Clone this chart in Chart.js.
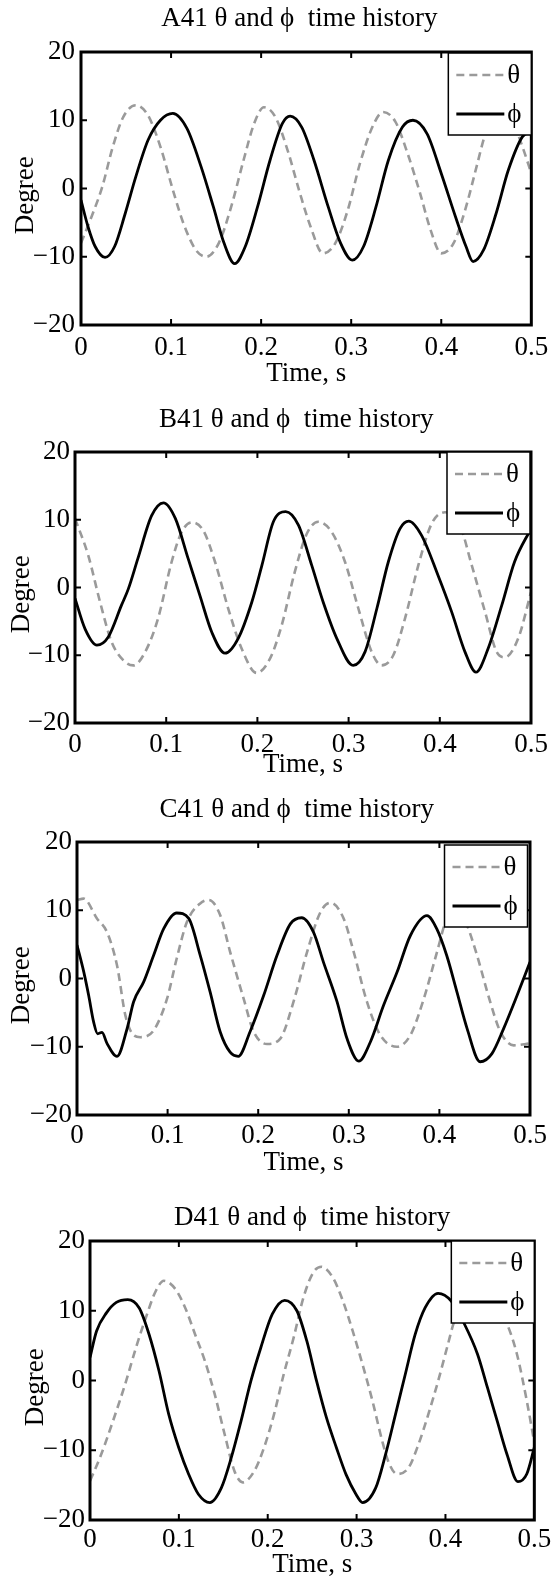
<!DOCTYPE html>
<html>
<head>
<meta charset="utf-8">
<script src="https://cdn.jsdelivr.net/npm/chart.js@4.4.1/dist/chart.umd.min.js"></script>
<style>
  html, body { margin: 0; padding: 0; background: #fff; }
  #page { position: relative; width: 555px; height: 1583px; }
  #page canvas { position: absolute; left: 0; }
</style>
</head>
<body>
<div id="page">
  <canvas id="chartA" width="555" height="392" style="top:0px;width:555px;height:392px"></canvas>
  <canvas id="chartB" width="555" height="390" style="top:392px;width:555px;height:390px"></canvas>
  <canvas id="chartC" width="555" height="398" style="top:782px;width:555px;height:398px"></canvas>
  <canvas id="chartD" width="555" height="403" style="top:1180px;width:555px;height:403px"></canvas>
</div>
<script>
// values (time in s, angle in degrees)
const panelNames = ["A41", "B41", "C41", "D41"];
const seriesLabels = ["θ", "ϕ"];
const timeTicks = [0, 0.1, 0.2, 0.3, 0.4, 0.5];
const degreeTicks = [-20, -10, 0, 10, 20];

const aThetaTime = [0, 0.0118, 0.0235, 0.0353, 0.047, 0.0608, 0.0745, 0.0882, 0.102, 0.1137, 0.1275, 0.1392, 0.153, 0.1667, 0.1804, 0.1922, 0.2031, 0.2157, 0.2294, 0.2431, 0.2549, 0.2686, 0.2824, 0.2961, 0.3098, 0.3235, 0.3353, 0.349, 0.3627, 0.3765, 0.3882, 0.400, 0.4137, 0.4275, 0.4392, 0.449, 0.4627, 0.4784, 0.4902, 0.5];
const aThetaDeg  = [-8.0, -4.1, 0.2, 6.1, 10.5, 12.2, 10.7, 6.1, -0.2, -5.1, -9.0, -10.0, -8.0, -2.7, 4.1, 9.5, 11.9, 10.5, 5.6, -0.7, -5.6, -9.5, -8.0, -3.2, 3.7, 9.0, 11.2, 9.8, 5.1, -0.7, -6.1, -9.5, -8.0, -2.7, 3.2, 8.0, 11.5, 10.0, 6.1, 2.2];
const aPhiTime = [0, 0.0078, 0.0157, 0.0267, 0.0373, 0.049, 0.0608, 0.0745, 0.0882, 0.102, 0.1176, 0.1333, 0.147, 0.1588, 0.1706, 0.1824, 0.196, 0.2098, 0.2235, 0.2322, 0.245, 0.2588, 0.2745, 0.2882, 0.3012, 0.3137, 0.3275, 0.3412, 0.3569, 0.3686, 0.3843, 0.400, 0.4157, 0.4275, 0.4353, 0.447, 0.4608, 0.4745, 0.4902, 0.5];
const aPhiDeg  = [-1.7, -5.6, -8.5, -10.1, -8.5, -3.7, 1.7, 7.1, 10.0, 11.0, 8.8, 3.2, -2.7, -8.0, -11.0, -8.5, -2.7, 4.1, 9.5, 10.6, 9.0, 4.1, -2.7, -8.0, -10.5, -8.5, -2.7, 4.1, 9.0, 10.0, 8.0, 2.2, -4.1, -8.5, -10.7, -9.0, -3.7, 2.7, 7.6, 8.3];

const bThetaTime = [0, 0.0146, 0.0274, 0.040, 0.055, 0.064, 0.077, 0.091, 0.106, 0.117, 0.128, 0.1407, 0.1535, 0.168, 0.1827, 0.199, 0.2138, 0.2266, 0.241, 0.254, 0.2668, 0.2814, 0.296, 0.3107, 0.3253, 0.3363, 0.349, 0.3618, 0.3765, 0.391, 0.4057, 0.422, 0.435, 0.4496, 0.4623, 0.4715, 0.486, 0.5];
const bThetaDeg  = [10.2, 4.7, -2.1, -8.0, -11.0, -11.5, -9.5, -4.6, 3.8, 8.2, 9.6, 8.4, 3.8, -3.1, -9.0, -12.6, -10.5, -5.6, 2.3, 7.9, 9.7, 8.2, 3.8, -3.1, -9.5, -11.5, -10.0, -4.6, 3.3, 9.4, 11.1, 9.2, 3.3, -3.6, -9.5, -10.3, -7.5, -0.7];
const bPhiTime = [0, 0.011, 0.024, 0.0365, 0.051, 0.0585, 0.069, 0.084, 0.097, 0.110, 0.124, 0.137, 0.150, 0.1645, 0.179, 0.194, 0.205, 0.2175, 0.231, 0.245, 0.2595, 0.272, 0.287, 0.305, 0.318, 0.331, 0.3436, 0.3564, 0.366, 0.380, 0.398, 0.413, 0.4276, 0.4397, 0.453, 0.468, 0.482, 0.5];
const bPhiDeg  = [-1.6, -6.1, -8.5, -7.3, -2.6, -0.2, 4.3, 10.6, 12.5, 10.2, 4.3, -1.2, -6.6, -9.7, -7.5, -2.1, 3.3, 9.7, 11.2, 9.2, 3.3, -2.1, -7.5, -11.5, -9.5, -3.1, 3.8, 8.7, 9.8, 7.7, 1.8, -3.6, -9.5, -12.5, -9.0, -2.6, 3.8, 8.7];

const cThetaTime = [0, 0.0074, 0.022, 0.0331, 0.0442, 0.0534, 0.0625, 0.070, 0.0846, 0.0993, 0.110, 0.1214, 0.136, 0.1453, 0.158, 0.169, 0.184, 0.195, 0.2097, 0.2244, 0.239, 0.254, 0.2686, 0.2796, 0.2943, 0.3054, 0.320, 0.3348, 0.3532, 0.368, 0.3827, 0.3974, 0.408, 0.419, 0.4305, 0.4415, 0.456, 0.4673, 0.482, 0.5];
const cThetaDeg  = [11.5, 11.7, 8.8, 6.8, 1.9, -5.4, -8.3, -8.6, -7.6, -3.0, 2.9, 8.3, 11.0, 11.5, 9.3, 3.9, -3.0, -7.8, -9.6, -8.8, -3.4, 3.9, 9.7, 11.1, 8.8, 3.9, -3.4, -8.3, -10.0, -8.3, -3.0, 3.9, 8.8, 10.7, 7.8, 3.4, -3.4, -7.8, -9.8, -9.5];
const cPhiTime = [0, 0.0074, 0.0129, 0.0184, 0.0228, 0.0276, 0.0331, 0.0442, 0.0552, 0.0625, 0.0736, 0.0846, 0.0957, 0.110, 0.1233, 0.136, 0.147, 0.158, 0.169, 0.178, 0.191, 0.206, 0.2208, 0.2355, 0.248, 0.261, 0.272, 0.287, 0.298, 0.311, 0.3238, 0.3385, 0.3532, 0.368, 0.3863, 0.397, 0.408, 0.4194, 0.4305, 0.445, 0.458, 0.471, 0.4857, 0.5];
const cPhiDeg  = [4.9, 1.0, -2.5, -6.4, -8.1, -7.9, -9.5, -11.4, -7.4, -3.4, -0.5, 3.4, 7.3, 9.6, 8.8, 3.4, -2.0, -7.8, -10.8, -11.4, -7.8, -2.5, 3.4, 8.0, 8.9, 6.8, 2.4, -3.4, -8.8, -12.1, -9.3, -3.9, 0.9, 6.3, 9.2, 7.3, 3.4, -2.0, -7.3, -12.2, -11.0, -7.3, -2.5, 2.4];

const dThetaTime = [0, 0.0111, 0.0259, 0.0406, 0.0517, 0.0628, 0.0739, 0.0831, 0.0961, 0.1072, 0.1183, 0.1293, 0.1404, 0.1515, 0.1626, 0.1718, 0.1848, 0.1959, 0.207, 0.218, 0.2291, 0.2402, 0.2513, 0.2605, 0.2735, 0.2846, 0.2956, 0.3067, 0.3178, 0.3289, 0.3363, 0.3455, 0.3585, 0.3695, 0.3806, 0.3917, 0.4028, 0.410, 0.440, 0.4693, 0.4804, 0.4915, 0.5];
const dThetaDeg  = [-14.4, -11.1, -5.8, -0.1, 4.7, 9.0, 12.8, 14.3, 13.1, 10.4, 6.6, 2.8, -2.0, -7.7, -13.0, -14.6, -13.0, -9.6, -4.9, 0.9, 6.1, 11.9, 15.5, 16.3, 14.7, 11.4, 7.1, 2.3, -2.9, -8.7, -11.8, -13.4, -12.5, -9.2, -4.9, -0.1, 5.2, 8.5, 14.5, 8.1, 3.8, -2.9, -8.9];
const dPhiTime = [0, 0.0074, 0.0185, 0.0296, 0.0425, 0.0554, 0.0665, 0.0776, 0.0887, 0.0998, 0.1109, 0.122, 0.1349, 0.1478, 0.1589, 0.170, 0.181, 0.1922, 0.2051, 0.2191, 0.2328, 0.2439, 0.255, 0.266, 0.2772, 0.2882, 0.2993, 0.3067, 0.3215, 0.3326, 0.3437, 0.3548, 0.3659, 0.377, 0.3917, 0.4065, 0.4213, 0.436, 0.4472, 0.4582, 0.4693, 0.4815, 0.4915, 0.5];
const dPhiDeg  = [3.3, 7.1, 9.7, 11.2, 11.6, 10.4, 6.6, 1.4, -4.9, -9.6, -13.4, -16.3, -17.5, -15.4, -11.1, -5.8, -0.1, 4.7, 9.5, 11.5, 10.0, 5.7, -0.1, -5.3, -9.6, -13.5, -16.3, -17.5, -15.4, -10.6, -4.9, 0.9, 6.6, 10.4, 12.5, 11.4, 8.1, 3.8, -1.0, -5.8, -10.6, -14.5, -13.4, -9.6];

const FONT = "'Liberation Serif', 'Times New Roman', serif";
const FS = 27;
Chart.defaults.font.family = FONT;
Chart.defaults.font.size = FS;
Chart.defaults.color = "#000";

function toPoints(times, values) {
  return times.map((t, i) => ({ x: t, y: values[i] }));
}

function fmtDeg(v) {
  return v < 0 ? "\u2212" + Math.abs(v) : String(v);
}

function fmtTime(v) {
  return v === 0 ? "0" : v.toFixed(1);
}

// box, inward ticks and the boxed legend in the top right corner
const framePlugin = {
  id: "matlabFrame",
  afterDatasetsDraw(chart, args, opts) {
    const { ctx, chartArea: a } = chart;
    const xs = chart.scales.x, ys = chart.scales.y;
    ctx.save();
    ctx.strokeStyle = "#000";
    ctx.lineWidth = 2;
    ctx.beginPath();
    xs.ticks.forEach(t => {
      if (t.value <= xs.min || t.value >= xs.max) return;
      const px = xs.getPixelForValue(t.value);
      ctx.moveTo(px, a.bottom); ctx.lineTo(px, a.bottom - 6);
      ctx.moveTo(px, a.top); ctx.lineTo(px, a.top + 6);
    });
    ys.ticks.forEach(t => {
      if (t.value <= ys.min || t.value >= ys.max) return;
      const py = ys.getPixelForValue(t.value);
      ctx.moveTo(a.left, py); ctx.lineTo(a.left + 6, py);
      ctx.moveTo(a.right, py); ctx.lineTo(a.right - 6, py);
    });
    ctx.stroke();
    ctx.lineWidth = 3;
    ctx.strokeRect(a.left, a.top, a.right - a.left, a.bottom - a.top);

    // legend
    const w = 83, h = 82;
    const lx = a.right - opts.dx - w, ly = a.top + opts.dy;
    ctx.fillStyle = "#fff";
    ctx.fillRect(lx, ly, w, h);
    ctx.lineWidth = 1.5;
    ctx.strokeRect(lx, ly, w, h);
    const rows = [22, 61];
    chart.data.datasets.forEach((ds, i) => {
      const ry = ly + rows[i];
      ctx.save();
      ctx.strokeStyle = ds.borderColor;
      ctx.lineWidth = ds.borderWidth;
      ctx.setLineDash(ds.borderDash || []);
      ctx.beginPath();
      ctx.moveTo(lx + 8, ry);
      ctx.lineTo(lx + 56, ry);
      ctx.stroke();
      ctx.restore();
      ctx.fillStyle = "#000";
      ctx.font = FS + "px " + FONT;
      ctx.textBaseline = "middle";
      ctx.textAlign = "left";
      ctx.fillText(ds.label, lx + 59, ry + 1);
    });
    ctx.restore();
  }
};

function makePanel(id, name, theta, phi, lay) {
  const H = document.getElementById(id).height;
  const lh = FS * 1.2;
  new Chart(document.getElementById(id), {
    type: "line",
    data: {
      datasets: [
        {
          label: seriesLabels[0],
          data: theta,
          borderColor: "#9a9a9a",
          borderWidth: 2.6,
          borderDash: [8, 5],
          pointRadius: 0,
          cubicInterpolationMode: "monotone",
          order: 1
        },
        {
          label: seriesLabels[1],
          data: phi,
          borderColor: "#000",
          borderWidth: 2.8,
          pointRadius: 0,
          cubicInterpolationMode: "monotone",
          order: 0
        }
      ]
    },
    options: {
      responsive: false,
      animation: false,
      devicePixelRatio: 1,
      layout: { autoPadding: false, padding: { left: 0, right: 555 - lay.R, top: 0, bottom: 0 } },
      scales: {
        x: {
          type: "linear",
          min: 0,
          max: 0.5,
          afterBuildTicks: s => { s.ticks = timeTicks.map(v => ({ value: v })); },
          afterFit: s => { s.height = H - lay.B; },
          grid: { display: false, drawTicks: false },
          border: { display: false },
          ticks: { padding: lay.xTickPad, maxRotation: 0, autoSkip: false, callback: fmtTime },
          title: { display: true, text: "Time, s", padding: { top: 0, bottom: lay.xTitlePad } }
        },
        y: {
          type: "linear",
          min: -20,
          max: 20,
          afterBuildTicks: s => { s.ticks = degreeTicks.map(v => ({ value: v })); },
          afterFit: s => { s.width = lay.L; },
          grid: { display: false, drawTicks: false },
          border: { display: false },
          ticks: { padding: lay.yTickPad, callback: fmtDeg },
          // trailing spaces nudge the rotated label slightly downward, as in the original
          title: { display: true, text: "Degree  ", padding: { top: lay.yTitlePad, bottom: 0 } }
        }
      },
      plugins: {
        legend: { display: false },
        tooltip: { enabled: false },
        title: {
          display: true,
          fullSize: false,
          text: name + " θ and ϕ  time history" + lay.titleTail,
          font: { size: FS, weight: "normal" },
          color: "#000",
          padding: { top: lay.titlePad, bottom: lay.T - lay.titlePad - lh }
        },
        matlabFrame: { dx: lay.legDx, dy: lay.legDy }
      }
    },
    plugins: [framePlugin]
  });
}

makePanel("chartA", panelNames[0], toPoints(aThetaTime, aThetaDeg), toPoints(aPhiTime, aPhiDeg),
  { L: 81, R: 533, T: 52, B: 325, titlePad: 2.5, titleTail: "  ", xTickPad: 6.8, xTitlePad: 1.6, yTickPad: 6, yTitlePad: 10, legDx: 0, legDy: 1 });
makePanel("chartB", panelNames[1], toPoints(bThetaTime, bThetaDeg), toPoints(bPhiTime, bPhiDeg),
  { L: 75, R: 531, T: 60, B: 331, titlePad: 11.3, titleTail: "  ", xTickPad: 5.8, xTitlePad: 1.3, yTickPad: 5, yTitlePad: 5.8, legDx: 1, legDy: 0 });
makePanel("chartC", panelNames[2], toPoints(cThetaTime, cThetaDeg), toPoints(cPhiTime, cPhiDeg),
  { L: 77, R: 530, T: 60, B: 333, titlePad: 11.3, titleTail: "  ", xTickPad: 4.6, xTitlePad: 0.9, yTickPad: 5, yTitlePad: 5.8, legDx: 2.5, legDy: 3 });
makePanel("chartD", panelNames[3], toPoints(dThetaTime, dThetaDeg), toPoints(dPhiTime, dPhiDeg),
  { L: 90, R: 541, T: 61, B: 340, titlePad: 21.7, titleTail: "", xTickPad: 3.8, xTitlePad: 2.3, yTickPad: 5, yTitlePad: 19.8, legDx: 0, legDy: 0 });
</script>
</body>
</html>
